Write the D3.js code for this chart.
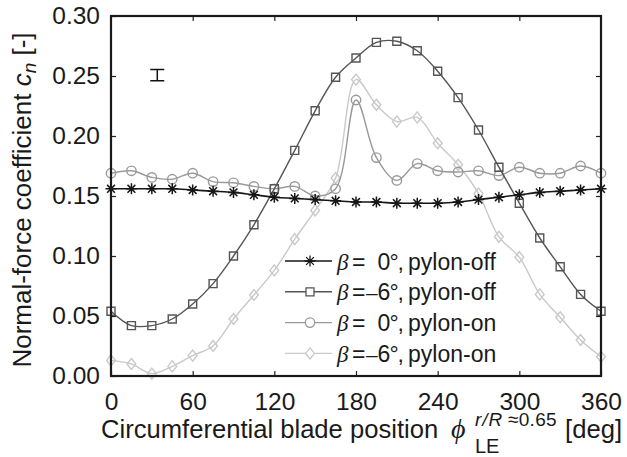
<!DOCTYPE html>
<html>
<head>
<meta charset="utf-8">
<script src="https://cdn.jsdelivr.net/npm/d3@7"></script>
<style>
  html, body { margin: 0; padding: 0; background: #fff; }
  svg { display: block; font-family: "Liberation Sans", Arial, sans-serif; }
</style>
</head>
<body>
<svg id="chart" width="627" height="457"></svg>
<script>
// blade position every 15 deg
const phi = d3.range(0, 361, 15);

// beta = 0, pylon-off
const cnB0Off = [0.156, 0.156, 0.156, 0.156, 0.155, 0.154, 0.153, 0.151, 0.149, 0.148, 0.147, 0.146, 0.145,
  0.145, 0.144, 0.144, 0.144, 0.145, 0.147, 0.149, 0.151, 0.153, 0.154, 0.155, 0.156];
// beta = -6, pylon-off
const cnB6Off = [0.054, 0.042, 0.042, 0.0475, 0.060, 0.077, 0.100, 0.126, 0.156, 0.188, 0.221, 0.249, 0.265,
  0.278, 0.279, 0.271, 0.254, 0.232, 0.205, 0.174, 0.144, 0.115, 0.091, 0.068, 0.054];
// beta = 0, pylon-on
const cnB0On = [0.169, 0.171, 0.1655, 0.164, 0.169, 0.162, 0.161, 0.158, 0.156, 0.158, 0.150, 0.156, 0.230,
  0.182, 0.163, 0.177, 0.171, 0.170, 0.171, 0.167, 0.174, 0.169, 0.169, 0.175, 0.169];
// beta = -6, pylon-on
const cnB6On = [0.013, 0.010, 0.002, 0.008, 0.017, 0.025, 0.0475, 0.0675, 0.088, 0.114, 0.138, 0.165, 0.247,
  0.226, 0.212, 0.2155, 0.194, 0.176, 0.152, 0.116, 0.099, 0.068, 0.049, 0.030, 0.016];

const xTicks = [0, 60, 120, 180, 240, 300, 360];
const yTicks = [0, 0.05, 0.10, 0.15, 0.20, 0.25, 0.30];

// measurement uncertainty bar
const errPos = [34, 0.2508];
const errHalf = 0.0047;

const series = [
  { key: 'b6on', values: cnB6On, color: '#c9c9c9', marker: 'diamond', neg: true, deg: '6', cfg: 'pylon-on' },
  { key: 'b0on', values: cnB0On, color: '#9a9a9a', marker: 'circle', neg: false, deg: '0', cfg: 'pylon-on' },
  { key: 'b6off', values: cnB6Off, color: '#555', marker: 'square', neg: true, deg: '6', cfg: 'pylon-off' },
  { key: 'b0off', values: cnB0Off, color: '#161616', marker: 'star', neg: false, deg: '0', cfg: 'pylon-off' }
];
const legendOrder = ['b0off', 'b6off', 'b0on', 'b6on'];

const svg = d3.select('#chart');
const m = { left: 111, top: 16, right: 601, bottom: 376 };

const x = d3.scaleLinear().domain([0, 360]).range([m.left, m.right]);
const y = d3.scaleLinear().domain([0, 0.30]).range([m.bottom, m.top]);

const fmtY = d3.format('.2f');
const ink = '#1a1a1a';

// axes, ticks pointing inward on all four sides
function styleAxis (g) {
  g.select('.domain').remove();
  g.selectAll('.tick line').attr('stroke', '#222').attr('stroke-width', 1.2);
  g.selectAll('.tick text').attr('fill', ink).style('font-size', '24.5px')
    .style('font-family', '"Liberation Sans", Arial, sans-serif');
}

svg.append('g')
  .attr('transform', `translate(0,${m.bottom})`)
  .call(d3.axisBottom(x).tickValues(xTicks).tickSizeInner(-5).tickSizeOuter(0).tickPadding(17))
  .call(styleAxis);
svg.append('g')
  .attr('transform', `translate(0,${m.top})`)
  .call(d3.axisTop(x).tickValues(xTicks.slice(1, -1)).tickSizeInner(-5).tickSizeOuter(0).tickFormat(''))
  .call(styleAxis);
svg.append('g')
  .attr('transform', `translate(${m.left},0)`)
  .call(d3.axisLeft(y).tickValues(yTicks).tickSizeInner(-5).tickSizeOuter(0).tickPadding(11).tickFormat(fmtY))
  .call(styleAxis);
svg.append('g')
  .attr('transform', `translate(${m.right},0)`)
  .call(d3.axisRight(y).tickValues(yTicks.slice(1, -1)).tickSizeInner(-5).tickSizeOuter(0).tickFormat(''))
  .call(styleAxis);

const plot = svg.append('g');

const line = d3.line()
  .x((d, i) => x(phi[i]))
  .y(d => y(d))
  .curve(d3.curveCatmullRom.alpha(0.5));

function markerPath (type) {
  switch (type) {
    case 'square': return 'M-4,-4H4V4H-4Z';
    case 'circle': return 'M4.7,0A4.7,4.7 0 1,1 -4.7,0A4.7,4.7 0 1,1 4.7,0Z';
    case 'diamond': return 'M0,-5.5L4.4,0L0,5.5L-4.4,0Z';
    default: return 'M0,-5.5V5.5M-5.5,0H5.5M-3.9,-3.9L3.9,3.9M-3.9,3.9L3.9,-3.9';
  }
}

for (const s of series) {
  plot.append('path')
    .attr('d', line(s.values))
    .attr('fill', 'none')
    .attr('stroke', s.color)
    .attr('stroke-width', s.marker === 'star' ? 1.6 : 1.4);

  plot.selectAll(null)
    .data(s.values)
    .enter()
    .append('path')
    .attr('transform', (d, i) => `translate(${x(phi[i])},${y(d)})`)
    .attr('d', markerPath(s.marker))
    .attr('fill', 'none')
    .attr('stroke', s.color)
    .attr('stroke-width', s.marker === 'star' ? 1.5 : 1.4);
}

// frame
svg.append('rect')
  .attr('x', m.left).attr('y', m.top)
  .attr('width', m.right - m.left).attr('height', m.bottom - m.top)
  .attr('fill', 'none').attr('stroke', ink).attr('stroke-width', 2.2);

// error bar
const ex = x(errPos[0]);
const eTop = y(errPos[1] + errHalf);
const eBot = y(errPos[1] - errHalf);
svg.append('path')
  .attr('d', `M${ex - 7},${eTop}H${ex + 7}M${ex},${eTop}V${eBot}M${ex - 7},${eBot}H${ex + 7}`)
  .attr('stroke', '#111').attr('stroke-width', 1.5).attr('fill', 'none');

// legend
const leg = svg.append('g');
const byKey = new Map(series.map(s => [s.key, s]));
legendOrder.forEach((k, i) => {
  const s = byKey.get(k);
  const ly = 261 + i * 30.8;
  leg.append('line')
    .attr('x1', 285).attr('x2', 332).attr('y1', ly).attr('y2', ly)
    .attr('stroke', s.color).attr('stroke-width', 1.4);
  leg.append('path')
    .attr('transform', `translate(310,${ly})`)
    .attr('d', markerPath(s.marker))
    .attr('fill', 'white')
    .attr('stroke', s.color).attr('stroke-width', 1.3);
  const ty = ly + 8.5;
  leg.append('text').attr('x', 337).attr('y', ty)
    .style('font-family', '"Liberation Serif", serif').style('font-style', 'italic').style('font-size', '23px')
    .attr('fill', ink).text('\u03b2');
  leg.append('text').attr('x', 352).attr('y', ty)
    .style('font-size', '23px').attr('fill', ink).text('=');
  const val = leg.append('text').attr('x', 404).attr('y', ty).attr('text-anchor', 'end')
    .style('font-size', '23px').attr('fill', ink);
  if (s.neg) val.append('tspan').style('font-size', '21px').text('\u2013');
  val.append('tspan').text(s.deg);
  val.append('tspan').attr('dx', -1).text('\u00b0');
  val.append('tspan').attr('dx', -1).text(',');
  leg.append('text').attr('x', 408).attr('y', ty)
    .style('font-size', '23px').attr('fill', ink).text(s.cfg);
});

// y axis title
const yt = svg.append('text')
  .attr('transform', 'translate(31,200) rotate(-90)')
  .attr('text-anchor', 'middle')
  .style('font-size', '26px').attr('fill', ink);
yt.append('tspan').text('Normal-force coefficient ');
yt.append('tspan').style('font-style', 'italic').text('c');
yt.append('tspan').style('font-style', 'italic').style('font-size', '19px').attr('dy', '5').text('n');
yt.append('tspan').attr('dy', '-5').text(' [-]');

// x axis title
const xtY = 438;
svg.append('text').attr('x', 101).attr('y', xtY)
  .style('font-size', '25.6px').attr('fill', ink).text('Circumferential blade position');
svg.append('text').attr('x', 451).attr('y', xtY)
  .style('font-family', '"Liberation Serif", serif').style('font-style', 'italic').style('font-size', '28px')
  .attr('fill', ink).text('\u03d5');
svg.append('text').attr('x', 475).attr('y', 426)
  .style('font-size', '19px').style('font-style', 'italic').style('letter-spacing', '1px')
  .attr('fill', ink).text('r/R');
svg.append('text').attr('x', 508).attr('y', 426)
  .style('font-size', '19px').style('letter-spacing', '0.3px')
  .attr('fill', ink).text('\u22480.65');
svg.append('text').attr('x', 475).attr('y', 453)
  .style('font-size', '20px').attr('fill', ink).text('LE');
svg.append('text').attr('x', 622).attr('y', xtY).attr('text-anchor', 'end')
  .style('font-size', '25.6px').attr('fill', ink).text('[deg]');
</script>
</body>
</html>
